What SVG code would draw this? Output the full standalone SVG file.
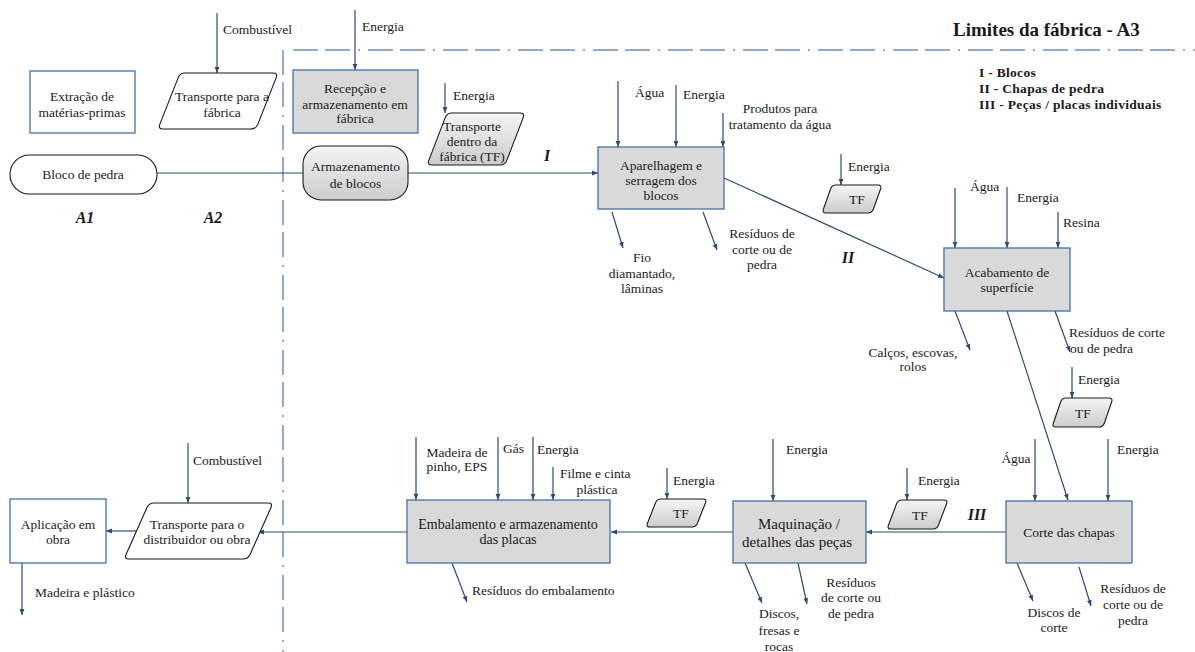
<svg xmlns="http://www.w3.org/2000/svg" width="1195" height="652" viewBox="0 0 1195 652" font-family="Liberation Serif, DejaVu Serif, serif">
<defs>
<linearGradient id="g" x1="0" y1="0" x2="0" y2="1">
<stop offset="0" stop-color="#f4f4f4"/>
<stop offset="1" stop-color="#cccccc"/>
</linearGradient>
<marker id="ah" viewBox="0 0 10 10" refX="10" refY="5" markerWidth="5" markerHeight="5" orient="auto">
<path d="M0,1 L10,5 L0,9 Z" fill="#2E4A78"/>
</marker>
</defs>
<style>
text{font-family:'Liberation Serif','DejaVu Serif','Noto Serif',serif;font-size:13.5px;fill:#1a1a1a}
.c{text-anchor:middle}
.b{font-weight:bold}
.bi{font-weight:bold;font-style:italic;font-size:16px}
.box{fill:#d9d9d9;stroke:#4472A8;stroke-width:1.3}
.wbox{fill:#ffffff;stroke:#4472A8;stroke-width:1.3}
.sh{fill:url(#g);stroke:#1a1a1a;stroke-width:1.1}
.wsh{fill:#ffffff;stroke:#1a1a1a;stroke-width:1.1}
.ln{stroke:#2E4A78;stroke-width:1.2;fill:none}
.ar{stroke:#2E4A78;stroke-width:1.2;fill:none;marker-end:url(#ah)}
.dd{stroke:#6F8FBF;stroke-width:1.5;fill:none;stroke-dasharray:25 7 25 8 2 8}
</style>
<rect width="1195" height="652" fill="#ffffff"/>

<g id="boundary">
<line class="dd" x1="293" y1="50" x2="1195" y2="50"/>
<line class="dd" x1="283" y1="50" x2="283" y2="652"/>
<text x="953" y="36" class="b" style="font-size:19px">Limites da fábrica - A3</text>
<text x="979" y="77" class="b" style="letter-spacing:0.3px">I - Blocos</text>
<text x="979" y="93" class="b" style="letter-spacing:0.3px">II - Chapas de pedra</text>
<text x="979" y="109" class="b" style="letter-spacing:0.3px">III - Peças / placas individuais</text>
<text x="85" y="223" class="bi c">A1</text>
<text x="213" y="223" class="bi c">A2</text>
<text x="547" y="161" class="bi c">I</text>
<text x="848" y="263" class="bi c">II</text>
<text x="977" y="520" class="bi c">III</text>
</g>

<g id="connectors">
<line class="ln" x1="157" y1="173" x2="303" y2="173"/>
<line class="ar" x1="408" y1="173" x2="598" y2="173"/>
<line class="ar" x1="724" y1="178" x2="944" y2="278"/>
<line class="ar" x1="1007" y1="311" x2="1068" y2="500"/>
<line class="ar" x1="1006" y1="532" x2="866" y2="532"/>
<line class="ar" x1="733" y1="532" x2="611" y2="532"/>
<line class="ar" x1="407" y1="532" x2="258" y2="532"/>
<line class="ar" x1="137" y1="531" x2="106" y2="531"/>
<line class="ar" x1="217" y1="13" x2="217" y2="73"/>
<line class="ar" x1="355" y1="10" x2="355" y2="70"/>
<line class="ar" x1="445" y1="83" x2="445" y2="113"/>
<line class="ar" x1="618" y1="81" x2="618" y2="147"/>
<line class="ar" x1="676" y1="85" x2="676" y2="147"/>
<line class="ar" x1="723" y1="113" x2="723" y2="147"/>
<line class="ar" x1="841" y1="154" x2="841" y2="185"/>
<line class="ar" x1="955" y1="188" x2="955" y2="248"/>
<line class="ar" x1="1007" y1="187" x2="1007" y2="248"/>
<line class="ar" x1="1058" y1="212" x2="1058" y2="248"/>
<line class="ar" x1="1072" y1="367" x2="1072" y2="398"/>
<line class="ar" x1="1035" y1="439" x2="1035" y2="501"/>
<line class="ar" x1="1108" y1="439" x2="1108" y2="501"/>
<line class="ar" x1="907" y1="468" x2="907" y2="500"/>
<line class="ar" x1="773" y1="439" x2="773" y2="501"/>
<line class="ar" x1="667" y1="468" x2="667" y2="499"/>
<line class="ar" x1="416" y1="437" x2="416" y2="500"/>
<line class="ar" x1="498" y1="437" x2="498" y2="500"/>
<line class="ar" x1="533" y1="437" x2="533" y2="500"/>
<line class="ar" x1="553" y1="467" x2="553" y2="500"/>
<line class="ar" x1="188" y1="443" x2="188" y2="503"/>
<line class="ar" x1="612" y1="212" x2="623" y2="248"/>
<line class="ar" x1="703" y1="212" x2="717" y2="250"/>
<line class="ar" x1="955" y1="311" x2="970" y2="350"/>
<line class="ar" x1="1055" y1="311" x2="1070" y2="352"/>
<line class="ar" x1="1017" y1="563" x2="1033" y2="601"/>
<line class="ar" x1="1079" y1="567" x2="1091" y2="606"/>
<line class="ar" x1="745" y1="563" x2="762" y2="603"/>
<line class="ar" x1="798" y1="563" x2="807" y2="604"/>
<line class="ar" x1="452" y1="563" x2="467" y2="602"/>
<line class="ar" x1="22" y1="563" x2="22" y2="615"/>
</g>

<g id="labels">
<text x="223" y="34">Combustível</text>
<text x="362" y="31">Energia</text>
<text x="453" y="100">Energia</text>
<text x="635" y="97">Água</text>
<text x="683" y="99">Energia</text>
<text x="780" y="113" class="c">Produtos para</text>
<text x="780" y="129" class="c">tratamento da água</text>
<text x="848" y="171">Energia</text>
<text x="642" y="262" class="c">Fio</text>
<text x="642" y="278" class="c">diamantado,</text>
<text x="642" y="293" class="c">lâminas</text>
<text x="762" y="238" class="c">Resíduos de</text>
<text x="762" y="254" class="c">corte ou de</text>
<text x="762" y="269" class="c">pedra</text>
<text x="970" y="191">Água</text>
<text x="1017" y="202">Energia</text>
<text x="1063" y="227">Resina</text>
<text x="913" y="357" class="c">Calços, escovas,</text>
<text x="913" y="371" class="c">rolos</text>
<text x="1069" y="337">Resíduos de corte</text>
<text x="1070" y="353">ou de pedra</text>
<text x="1078" y="384">Energia</text>
<text x="1016" y="463" class="c">Água</text>
<text x="1117" y="454">Energia</text>
<text x="918" y="485">Energia</text>
<text x="1054" y="617" class="c">Discos de</text>
<text x="1054" y="632" class="c">corte</text>
<text x="1133" y="593" class="c">Resíduos de</text>
<text x="1133" y="609" class="c">corte ou de</text>
<text x="1133" y="625" class="c">pedra</text>
<text x="786" y="454">Energia</text>
<text x="673" y="485">Energia</text>
<text x="779" y="618" class="c">Discos,</text>
<text x="779" y="635" class="c">fresas e</text>
<text x="779" y="651" class="c">rocas</text>
<text x="851" y="587" class="c">Resíduos</text>
<text x="851" y="602" class="c">de corte ou</text>
<text x="851" y="618" class="c">de pedra</text>
<text x="457" y="457" class="c">Madeira de</text>
<text x="457" y="471" class="c">pinho, EPS</text>
<text x="503" y="453">Gás</text>
<text x="537" y="454">Energia</text>
<text x="560" y="478">Filme e cinta</text>
<text x="597" y="494" class="c">plástica</text>
<text x="472" y="595">Resíduos do embalamento</text>
<text x="193" y="465">Combustível</text>
<text x="35" y="597">Madeira e plástico</text>
</g>

<g id="extracao">
<rect class="wbox" x="30" y="71" width="105" height="62"/>
<text x="82" y="101" class="c">Extração de</text>
<text x="82" y="117" class="c">matérias-primas</text>
</g>

<g id="transporte-fabrica">
<path class="wsh" d="M 185,73 L 273,73 Q 278,73 276.2,77.650 L 257.8,124.35 Q 256,129 251,129 L 163,129 Q 158,129 159.8,124.35 L 178.2,77.65 Q 180,73 185,73 Z"/>
<text x="222" y="101" class="c">Transporte para a</text>
<text x="222" y="117" class="c">fábrica</text>
</g>

<g id="bloco">
<rect class="wsh" x="10" y="155" width="147" height="39" rx="19.5"/>
<text x="83" y="179" class="c">Bloco de pedra</text>
</g>

<g id="recepcao">
<rect class="box" x="293" y="70" width="125" height="63"/>
<text x="355" y="93" class="c">Recepção e</text>
<text x="355" y="109" class="c">armazenamento em</text>
<text x="355" y="123" class="c">fábrica</text>
</g>

<g id="armazenamento">
<rect class="sh" x="303" y="146" width="105" height="54" rx="18"/>
<text x="355.5" y="171" class="c">Armazenamento</text>
<text x="355.5" y="188" class="c">de blocos</text>
</g>

<g id="transporte-dentro">
<path class="sh" d="M 452,113 L 520,113 Q 525,113 523.2,117.67 L 506.8,160.33 Q 505,165 500,165 L 432,165 Q 427,165 428.8,160.33 L 445.2,117.67 Q 447,113 452,113 Z"/>
<text x="472" y="131" class="c">Transporte</text>
<text x="472" y="146" class="c">dentro da</text>
<text x="472" y="161" class="c">fábrica (TF)</text>
</g>

<g id="aparelhagem">
<rect class="box" x="598" y="147" width="126" height="62"/>
<text x="661" y="170" class="c">Aparelhagem e</text>
<text x="661" y="185" class="c">serragem dos</text>
<text x="661" y="200" class="c">blocos</text>
</g>

<g id="tf1">
<path class="sh" d="M 836,185 L 878,185 Q 882,185 880.65,188.77 L 873.35,209.23 Q 872,213 868,213 L 826,213 Q 822,213 823.35,209.23 L 830.65,188.77 Q 832,185 836,185 Z"/>
<text x="857" y="204" class="c">TF</text>
</g>

<g id="acabamento">
<rect class="box" x="944" y="248" width="126" height="63"/>
<text x="1007" y="277" class="c">Acabamento de</text>
<text x="1007" y="292" class="c">superfície</text>
</g>

<g id="tf2">
<path class="sh" d="M 1066,398 L 1109,398 Q 1113,398 1111.7,401.78 L 1104.3,423.22 Q 1103,427 1099,427 L 1056,427 Q 1052,427 1053.3,423.22 L 1060.7,401.78 Q 1062,398 1066,398 Z"/>
<text x="1083" y="418" class="c">TF</text>
</g>

<g id="corte">
<rect class="box" x="1006" y="501" width="126" height="62"/>
<text x="1069" y="537" class="c">Corte das chapas</text>
</g>

<g id="tf3">
<path class="sh" d="M 902,500 L 944,500 Q 948,500 946.58,503.74 L 938.42,525.26 Q 937,529 933,529 L 891,529 Q 887,529 888.42,525.26 L 896.58,503.74 Q 898,500 902,500 Z"/>
<text x="920" y="520" class="c">TF</text>
</g>

<g id="maquinacao">
<rect class="box" x="733" y="501" width="133" height="62"/>
<text x="799" y="529" class="c" style="font-size:15px">Maquinação /</text>
<text x="797" y="547" class="c" style="font-size:15px">detalhes das peças</text>
</g>

<g id="tf4">
<path class="sh" d="M 661,499 L 703,499 Q 707,499 705.54,502.72 L 697.46,523.28 Q 696,527 692,527 L 650,527 Q 646,527 647.46,523.28 L 655.54,502.72 Q 657,499 661,499 Z"/>
<text x="681" y="518" class="c">TF</text>
</g>

<g id="embalamento">
<rect class="box" x="407" y="500" width="203" height="63"/>
<text x="508" y="529" class="c" style="font-size:14px">Embalamento e armazenamento</text>
<text x="508" y="544" class="c" style="font-size:14px">das placas</text>
</g>

<g id="transporte-distribuidor">
<path class="wsh" d="M 154,503 L 268,503 Q 273,503 270.96,507.57 L 250.04,554.43 Q 248,559 243,559 L 129,559 Q 124,559 126.04,554.43 L 146.96,507.57 Q 149,503 154,503 Z"/>
<text x="197" y="529" class="c">Transporte para o</text>
<text x="197" y="544" class="c">distribuidor ou obra</text>
</g>

<g id="aplicacao">
<rect class="wbox" x="10" y="499" width="96" height="64"/>
<text x="58" y="529" class="c">Aplicação em</text>
<text x="58" y="544" class="c">obra</text>
</g>
</svg>
